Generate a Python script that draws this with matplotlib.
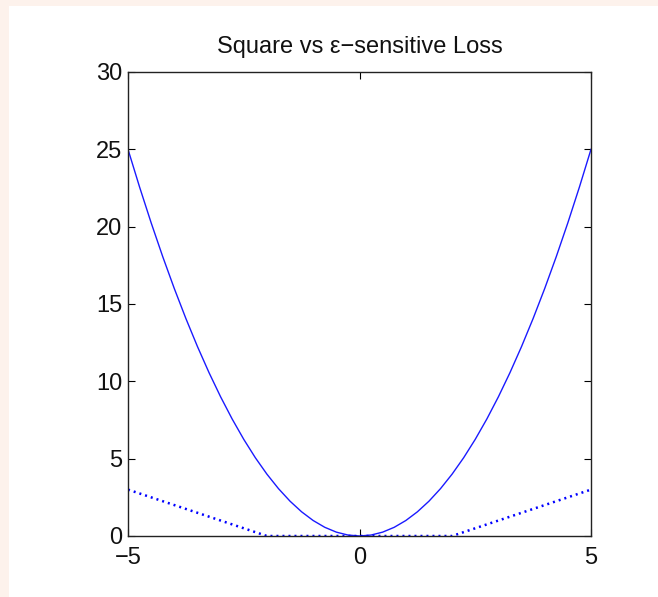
import matplotlib
matplotlib.use("Agg")
import matplotlib.pyplot as plt
from matplotlib.patches import Rectangle

plt.rcParams['font.family'] = ['Liberation Sans', 'DejaVu Sans']

# Data
x_sq = [-5, -4.75, -4.5, -4.25, -4, -3.75, -3.5, -3.25, -3, -2.75, -2.5, -2.25,
        -2, -1.75, -1.5, -1.25, -1, -0.75, -0.5, -0.25, 0,
        0.25, 0.5, 0.75, 1, 1.25, 1.5, 1.75, 2, 2.25, 2.5, 2.75,
        3, 3.25, 3.5, 3.75, 4, 4.25, 4.5, 4.75, 5]
y_sq = [25, 22.5625, 20.25, 18.0625, 16, 14.0625, 12.25, 10.5625, 9, 7.5625, 6.25, 5.0625,
        4, 3.0625, 2.25, 1.5625, 1, 0.5625, 0.25, 0.0625, 0,
        0.0625, 0.25, 0.5625, 1, 1.5625, 2.25, 3.0625, 4, 5.0625, 6.25, 7.5625,
        9, 10.5625, 12.25, 14.0625, 16, 18.0625, 20.25, 22.5625, 25]
x_eps = [-5, -2, 2, 5]
y_eps = [3, 0, 0, 3]
x_ticks = [-5, 0, 5]
y_ticks = [0, 5, 10, 15, 20, 25, 30]
title = "Square vs \u03b5\u2212sensitive Loss"

fig = plt.figure(figsize=(6.58, 5.97), dpi=100)
fig.patch.set_facecolor('white')
# peach frame on the left and top edges
fig.patches.append(Rectangle((0, 0), 9/658, 1, transform=fig.transFigure,
                             facecolor='#fdf2ec', edgecolor='none', zorder=0))
fig.patches.append(Rectangle((0, 1 - 6/597), 1, 6/597, transform=fig.transFigure,
                             facecolor='#fdf2ec', edgecolor='none', zorder=0))

ax = fig.add_axes([128/658, 1 - 536/597, (591 - 128)/658, (536 - 72)/597])
ax.plot(x_sq, y_sq, color='#1a1aff', lw=1.0)
ax.plot(x_eps, y_eps, color='#0000ff', lw=1.8, linestyle=(0, (0.8, 1.6)))

ax.set_xlim(-5, 5)
ax.set_ylim(0, 30)
ax.set_xticks(x_ticks)
ax.set_yticks(y_ticks)
ax.set_xticklabels(['\u22125', '0', '5'])
ax.tick_params(direction='in', top=True, right=True, length=5, width=0.8,
               labelsize=17, colors='black', labelcolor='#111111')
ax.tick_params(axis='x', pad=8)
ax.tick_params(axis='y', pad=4)
for s in ax.spines.values():
    s.set_linewidth(1.0)
    s.set_color('#222222')
ax.set_title(title, fontsize=17, pad=14, color='#111111')

fig.savefig('out.png', dpi=100)
